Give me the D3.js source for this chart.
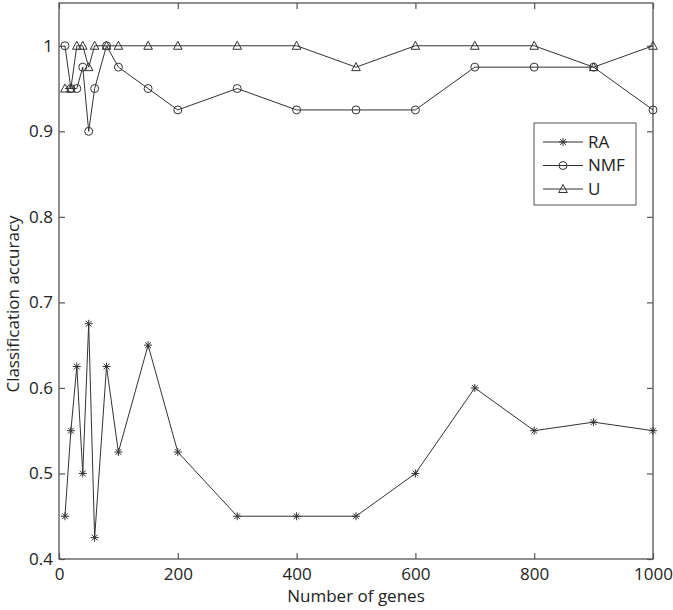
<!DOCTYPE html>
<html>
<head>
<meta charset="utf-8">
<script src="https://cdn.jsdelivr.net/npm/d3@7"></script>
<style>
  body { margin: 0; background: #fff; }
  svg text { font-family: "Open Sans", sans-serif; fill: #222; }
</style>
</head>
<body>
<div class="chart"></div>
<script>
const genes = [10, 20, 30, 40, 50, 60, 80, 100, 150, 200, 300, 400, 500, 600, 700, 800, 900, 1000];
const raValues = [0.45, 0.55, 0.625, 0.5, 0.675, 0.425, 0.625, 0.525, 0.65, 0.525, 0.45, 0.45, 0.45, 0.5, 0.6, 0.55, 0.56, 0.55];
const nmfValues = [1, 0.95, 0.95, 0.975, 0.9, 0.95, 1, 0.975, 0.95, 0.925, 0.95, 0.925, 0.925, 0.925, 0.975, 0.975, 0.975, 0.925];
const uValues = [0.95, 0.95, 1, 1, 0.975, 1, 1, 1, 1, 1, 1, 1, 0.975, 1, 1, 1, 0.975, 1];
const xTicks = [0, 200, 400, 600, 800, 1000];
const yTicks = [0.4, 0.5, 0.6, 0.7, 0.8, 0.9, 1];
const seriesNames = ["RA", "NMF", "U"];

const W = 673, H = 610;
const margin = { left: 59, right: 20, top: 3, bottom: 51 };
const lineColor = "#333";
const axisColor = "#555";
const fontSize = 17;

const svg = d3.select(".chart").append("svg")
    .attr("width", W)
    .attr("height", H);

const x = d3.scaleLinear().domain([0, 1000]).range([margin.left, W - margin.right]);
const y = d3.scaleLinear().domain([0.4, 1.05]).range([H - margin.bottom, margin.top]);

// frame
svg.append("rect")
    .attr("x", x(0)).attr("y", y(1.05))
    .attr("width", x(1000) - x(0)).attr("height", y(0.4) - y(1.05))
    .attr("fill", "none").attr("stroke", axisColor).attr("stroke-width", 1.3);

// axes with inward ticks
const axBottom = svg.append("g")
    .attr("transform", `translate(0,${y(0.4)})`)
    .call(d3.axisBottom(x).tickValues(xTicks).tickSize(-6).tickPadding(9).tickFormat(d3.format("d")));
const axTop = svg.append("g")
    .attr("transform", `translate(0,${y(1.05)})`)
    .call(d3.axisTop(x).tickValues(xTicks).tickSize(-6).tickFormat(""));
const axLeft = svg.append("g")
    .attr("transform", `translate(${x(0)},0)`)
    .call(d3.axisLeft(y).tickValues(yTicks).tickSize(-6).tickPadding(6).tickFormat(d => d === 1 ? "1" : d3.format(".1f")(d)));
const axRight = svg.append("g")
    .attr("transform", `translate(${x(1000)},0)`)
    .call(d3.axisRight(y).tickValues(yTicks).tickSize(-6).tickFormat(""));

[axBottom, axTop, axLeft, axRight].forEach(g => {
    g.select(".domain").remove();
    g.selectAll(".tick line").attr("stroke", axisColor).attr("stroke-width", 1.2);
    g.selectAll("text").attr("font-size", fontSize).attr("fill", "#222");
});

svg.append("text")
    .attr("x", (x(0) + x(1000)) / 2)
    .attr("y", 602)
    .attr("text-anchor", "middle")
    .attr("font-size", fontSize)
    .text("Number of genes");

svg.append("text")
    .attr("transform", "translate(19,304) rotate(-90)")
    .attr("text-anchor", "middle")
    .attr("font-size", fontSize)
    .text("Classification accuracy");

const line = d3.line()
    .x(d => x(d[0]))
    .y(d => y(d[1]));

const starPath = "M-4,0L4,0M0,-4L0,4M-2.9,-2.9L2.9,2.9M-2.9,2.9L2.9,-2.9";
const triPath = "M0,-4.5L4.3,3.5L-4.3,3.5Z";

function drawMarker(g, kind) {
    if (kind === "RA") {
        g.append("path").attr("d", starPath).attr("stroke", lineColor).attr("stroke-width", 1).attr("fill", "none");
    } else if (kind === "NMF") {
        g.append("circle").attr("r", 4).attr("fill", "none").attr("stroke", lineColor).attr("stroke-width", 1);
    } else {
        g.append("path").attr("d", triPath).attr("fill", "none").attr("stroke", lineColor).attr("stroke-width", 1);
    }
}

const allSeries = [raValues, nmfValues, uValues];
allSeries.forEach((vals, si) => {
    const pts = genes.map((g, i) => [g, vals[i]]);
    svg.append("path")
        .datum(pts)
        .attr("d", line)
        .attr("fill", "none")
        .attr("stroke", lineColor)
        .attr("stroke-width", 1);
    svg.append("g").selectAll("g")
        .data(pts)
        .enter()
        .append("g")
        .attr("transform", d => `translate(${x(d[0])},${y(d[1])})`)
        .each(function() { drawMarker(d3.select(this), seriesNames[si]); });
});

// legend
const legend = svg.append("g").attr("transform", "translate(534,123)");
legend.append("rect")
    .attr("width", 102).attr("height", 82)
    .attr("fill", "#fff").attr("stroke", axisColor).attr("stroke-width", 1);
seriesNames.forEach((name, i) => {
    const ry = 19 + i * 23.5;
    legend.append("line")
        .attr("x1", 9).attr("x2", 49).attr("y1", ry).attr("y2", ry)
        .attr("stroke", lineColor).attr("stroke-width", 1);
    drawMarker(legend.append("g").attr("transform", `translate(29,${ry})`), name);
    legend.append("text")
        .attr("x", 54).attr("y", ry)
        .attr("dy", "0.35em")
        .attr("font-size", fontSize)
        .text(name);
});
</script>
</body>
</html>
